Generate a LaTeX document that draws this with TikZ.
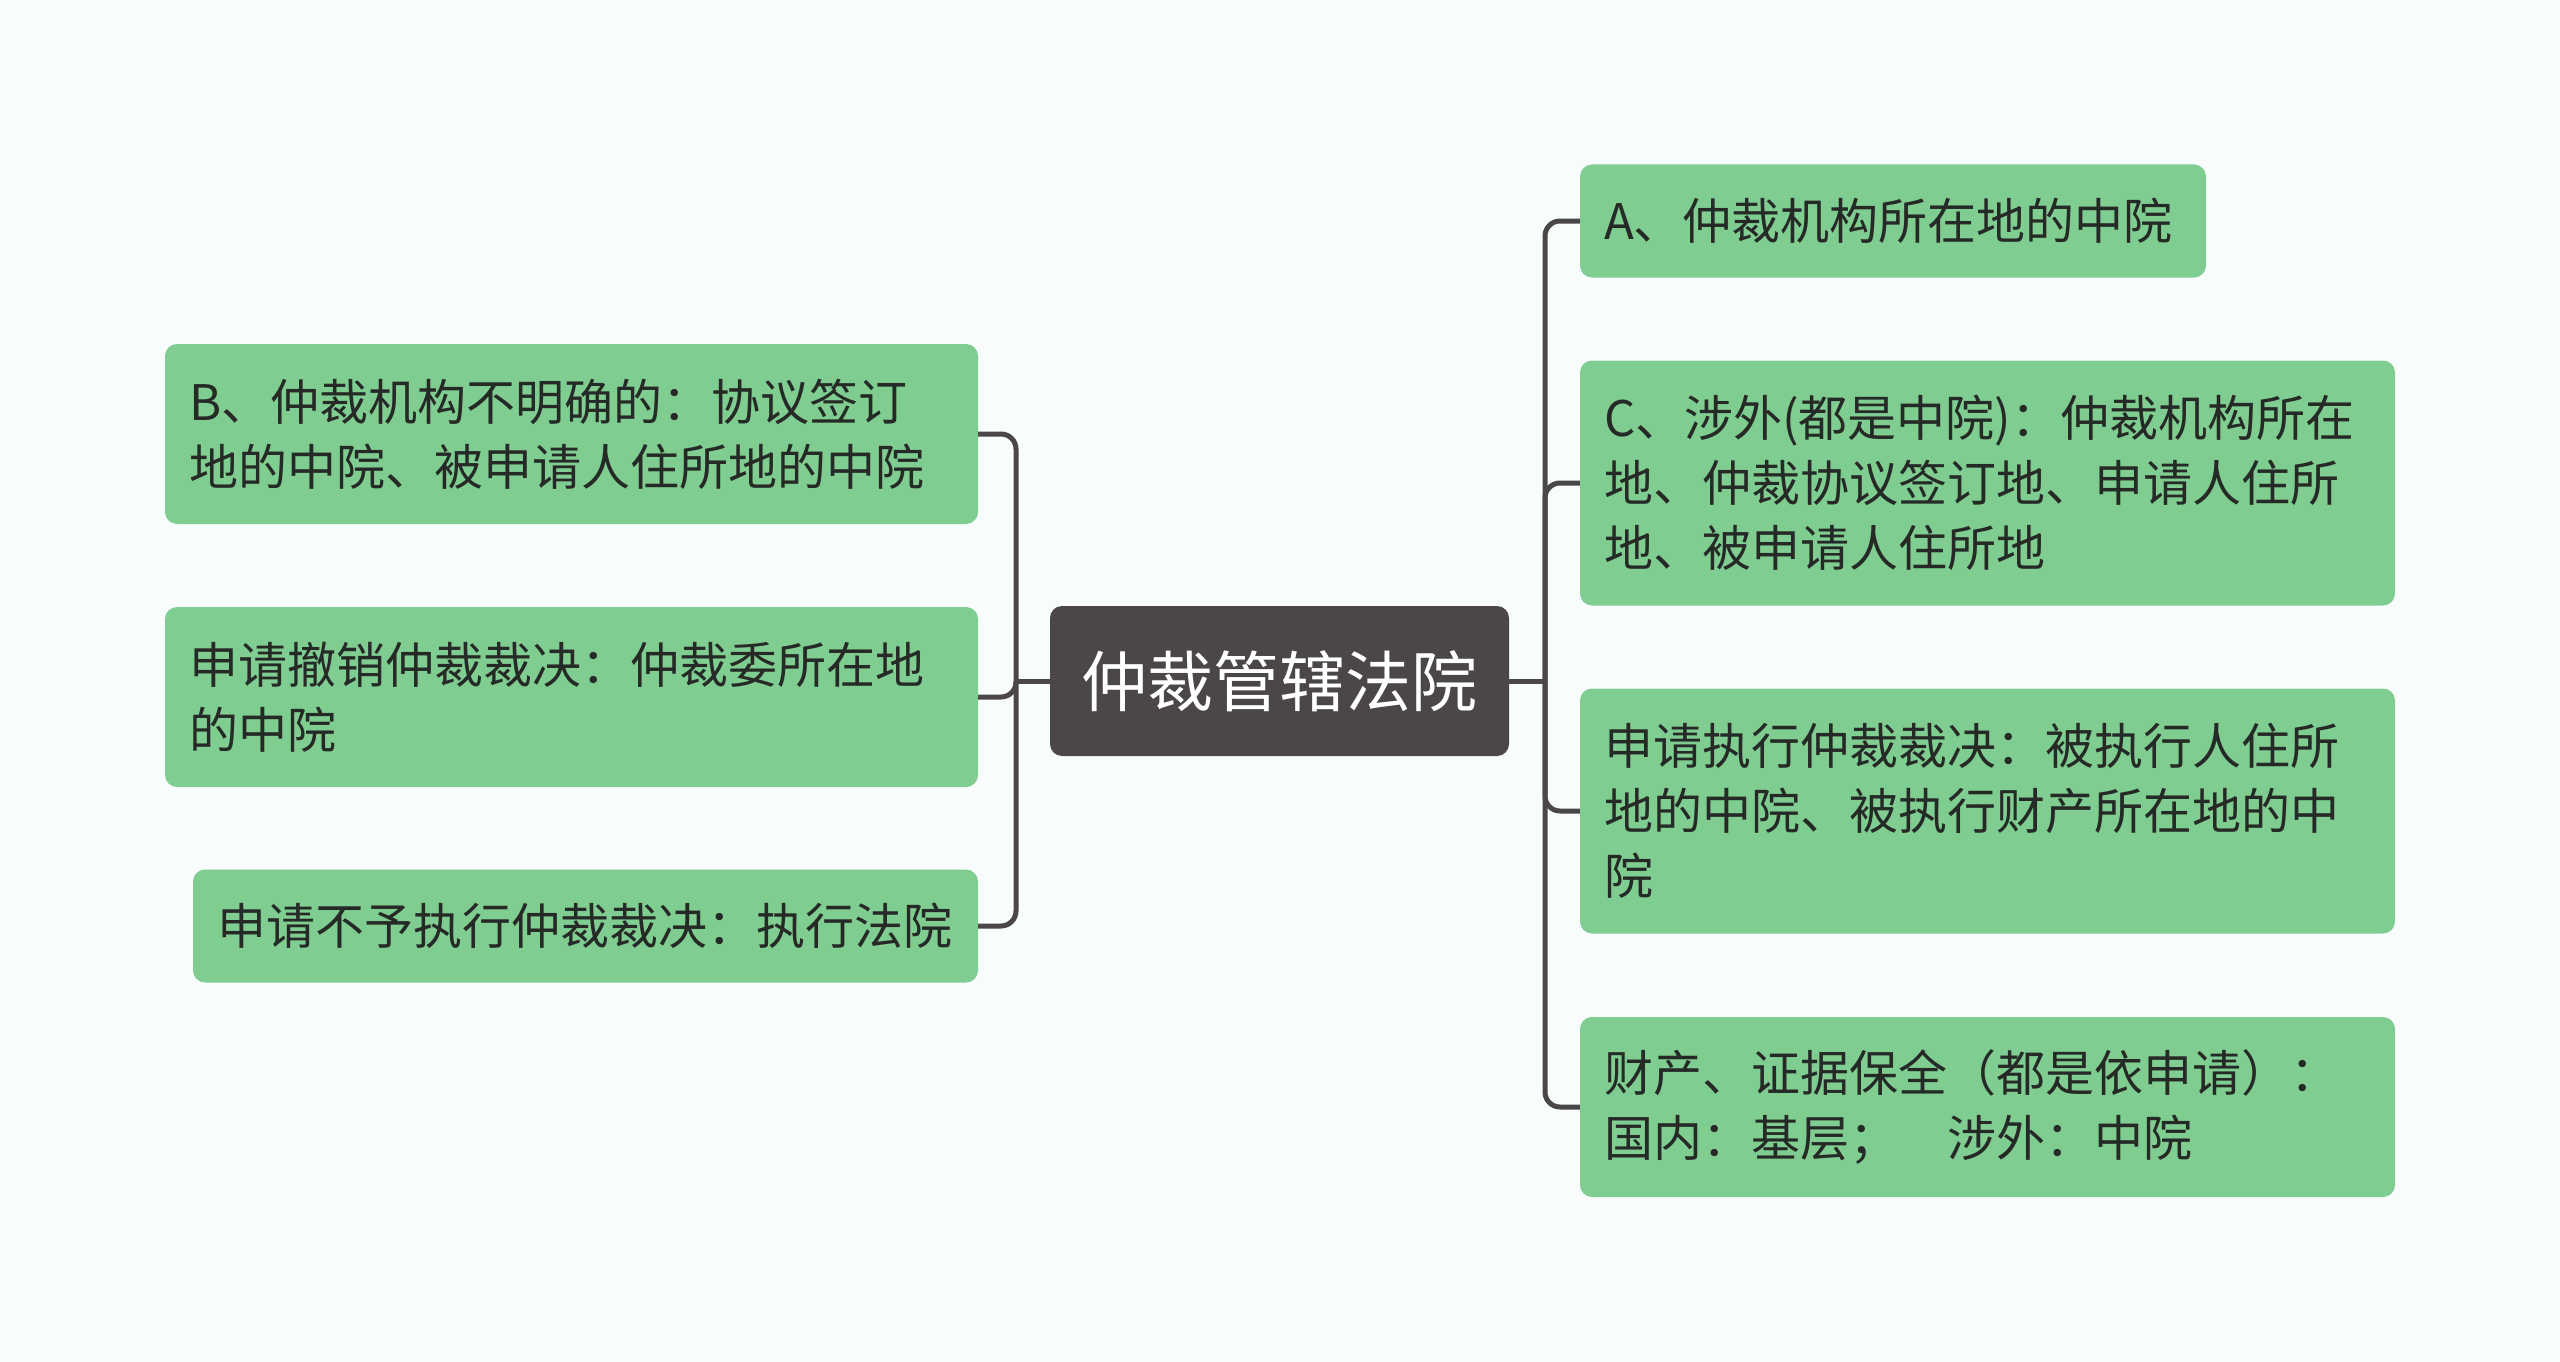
\documentclass[tikz,border=0pt]{standalone}
\usepackage{fontspec}
\setmainfont{Noto Sans CJK SC}
\definecolor{bgc}{HTML}{F8FCFD}
\definecolor{leafc}{HTML}{7FCD91}
\definecolor{rootc}{HTML}{4B4647}
\definecolor{linec}{HTML}{4B4647}
\definecolor{txtc}{HTML}{262A26}
\begin{document}
\begin{tikzpicture}[x=1pt,y=-1pt,
  leaf/.style={fill=leafc, rounded corners=12pt, inner xsep=24pt, inner ysep=0pt,
    align=left, text=txtc, font=\fontsize{49}{65}\selectfont, anchor=center},
  rootbox/.style={fill=rootc, rounded corners=12pt, text=white,
    minimum width=459pt, minimum height=150pt, font=\fontsize{66}{78}\selectfont},
  conn/.style={draw=linec, line width=5pt, rounded corners=15pt}]
\useasboundingbox[fill=bgc] (0,0) rectangle (2560,1362);
\node[rootbox] (c) at (1279.5,681) {仲裁管辖法院};
% left
\node[leaf, minimum width=813pt, minimum height=180pt, text width=765pt] (b) at (571.5,434)
  {B、仲裁机构不明确的：协议签订\\地的中院、被申请人住所地的中院};
\node[leaf, minimum width=813pt, minimum height=180pt, text width=765pt] (cx) at (571.5,697)
  {申请撤销仲裁裁决：仲裁委所在地\\的中院};
\node[leaf, minimum width=785pt, minimum height=113pt, text width=737pt] (by) at (585.5,926)
  {申请不予执行仲裁裁决：执行法院};
% right
\node[leaf, minimum width=626pt, minimum height=113pt, text width=578pt] (ra) at (1893,221)
  {A、仲裁机构所在地的中院};
\node[leaf, minimum width=815pt, minimum height=245pt, text width=767pt] (rc) at (1987.5,483)
  {C、涉外(都是中院)：仲裁机构所在\\地、仲裁协议签订地、申请人住所\\地、被申请人住所地};
\node[leaf, minimum width=815pt, minimum height=245pt, text width=767pt] (rz) at (1987.5,811)
  {申请执行仲裁裁决：被执行人住所\\地的中院、被执行财产所在地的中\\院};
\node[leaf, minimum width=815pt, minimum height=180pt, text width=767pt] (rb) at (1987.5,1107)
  {财产、证据保全（都是依申请）：\\国内：基层；\hspace{1em}涉外：中院};
% connectors
\coordinate (lt) at (1016,681);
\coordinate (rt) at (1545,681);
\draw[conn] (c.west) -- (lt);
\draw[conn] (c.east) -- (rt);
\draw[conn] (lt) |- (b.east);
\draw[conn] (lt) |- (cx.east);
\draw[conn] (lt) |- (by.east);
\draw[conn] (rt) |- (ra.west);
\draw[conn] (rt) |- (rc.west);
\draw[conn] (rt) |- (rz.west);
\draw[conn] (rt) |- (rb.west);
\end{tikzpicture}
\end{document}
